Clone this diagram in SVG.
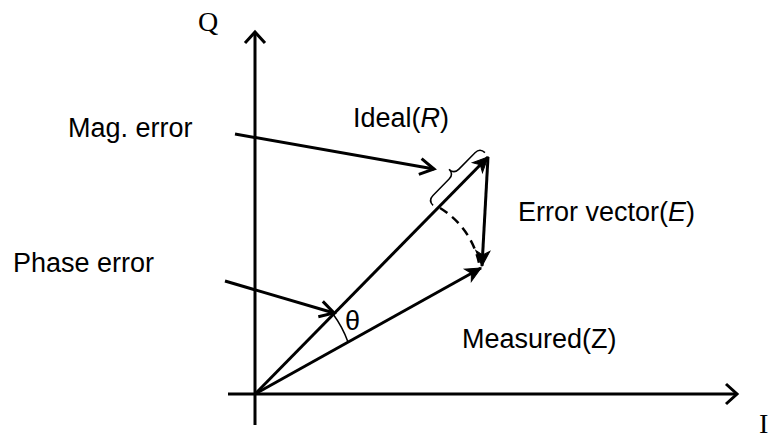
<svg xmlns="http://www.w3.org/2000/svg" width="770" height="439" viewBox="0 0 770 439">
<style>
.ln{stroke:#000;stroke-width:3;fill:none;stroke-linecap:butt}
.thin{stroke:#000;stroke-width:1.5;fill:none}
.sans{font-family:"Liberation Sans",Arial,sans-serif;font-size:27px;fill:#000}
.serif{font-family:"Liberation Serif","Times New Roman",serif;font-size:28px;fill:#000}
</style>
<defs>
<marker id="chevBig" markerUnits="userSpaceOnUse" orient="auto" markerWidth="30" markerHeight="30" refX="15" refY="15" viewBox="0 0 30 30" overflow="visible">
<path d="M4,5 L15,15 L4,25" fill="none" stroke="#000" stroke-width="3"/>
</marker>
<marker id="chev" markerUnits="userSpaceOnUse" orient="auto" markerWidth="30" markerHeight="30" refX="15" refY="15" viewBox="0 0 30 30" overflow="visible">
<path d="M1,7 L15,15 L1,23" fill="none" stroke="#000" stroke-width="3"/>
</marker>
<marker id="solid" markerUnits="userSpaceOnUse" orient="auto" markerWidth="30" markerHeight="30" refX="15" refY="15" viewBox="0 0 30 30" overflow="visible">
<path d="M15,15 L0,8 L4,15 L0,22 Z" fill="#000" stroke="#000" stroke-width="1"/>
</marker>
</defs>

<g id="axes">
<line class="ln" x1="255" y1="425" x2="255" y2="32" marker-end="url(#chevBig)"/>
<line class="ln" x1="228" y1="394" x2="737" y2="394" marker-end="url(#chevBig)"/>
</g>

<g id="connectors">
<line id="ideal-vec" class="ln" x1="255" y1="394" x2="488" y2="157" marker-end="url(#solid)"/>
<line id="measured-vec" class="ln" x1="255" y1="394" x2="481" y2="268" marker-end="url(#solid)"/>
<line id="error-vec" class="ln" x1="488" y1="157" x2="482" y2="266" marker-end="url(#solid)"/>
<line id="mag-arrow" class="ln" x1="235" y1="134" x2="434" y2="169" marker-end="url(#chev)"/>
<line id="phase-arrow" class="ln" x1="225" y1="281" x2="334" y2="313" marker-end="url(#chev)"/>
<path id="dash-arc" d="M440,208 A85,85 0 0 1 479,263" fill="none" stroke="#000" stroke-width="2.5" stroke-dasharray="9,6"/>
<path id="theta-arc" d="M333,314 A110,110 0 0 1 348,342" class="thin"/>
<path id="brace" class="thin" transform="translate(459,179) rotate(-45.5)" d="M-37,0 Q-37,-7 -30,-7 L-7,-7 Q0,-7 0,-14 Q0,-7 7,-7 L30,-7 Q37,-7 37,0"/>
</g>

<g id="labels">
<text id="q" class="serif" x="198" y="31">Q</text>
<text id="i" class="serif" x="759" y="433">I</text>
<text id="mag" class="sans" x="68" y="137">Mag. error</text>
<text id="ideal" class="sans" x="353" y="127">Ideal(<tspan font-style="italic">R</tspan>)</text>
<text id="phase" class="sans" x="13" y="272">Phase error</text>
<text id="error" class="sans" x="518" y="221">Error vector(<tspan font-style="italic">E</tspan>)</text>
<text id="measured" class="sans" x="462" y="348">Measured(Z)</text>
<text id="theta" class="sans" x="345" y="330" font-size="30">θ</text>
</g>
</svg>
